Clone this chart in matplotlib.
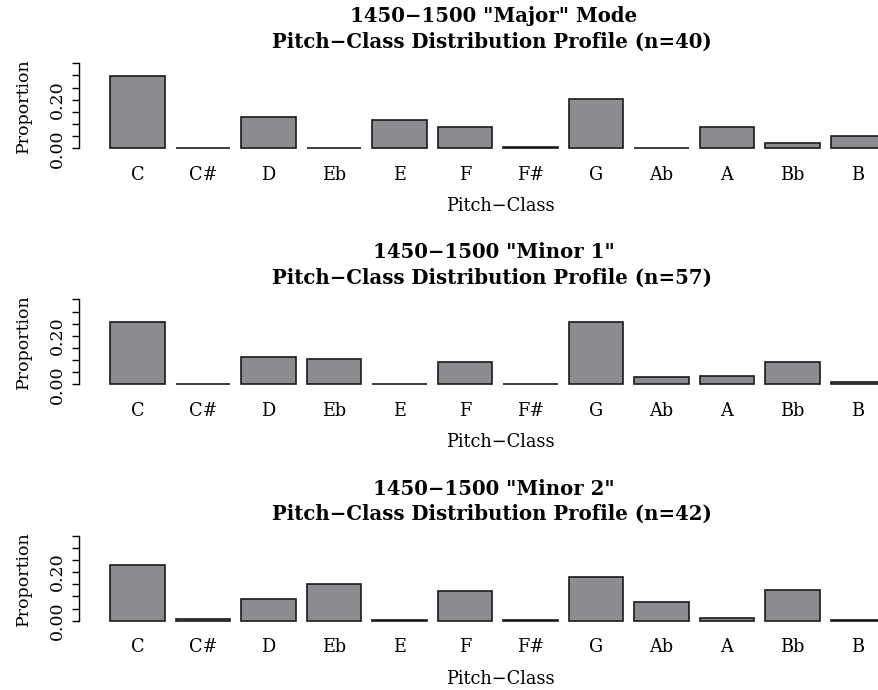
import matplotlib
matplotlib.use("Agg")
import matplotlib.pyplot as plt
import numpy as np

pitch_classes = ["C", "C#", "D", "Eb", "E", "F", "F#", "G", "Ab", "A", "Bb", "B"]
major_vals = [0.299, 0.002, 0.130, 0.003, 0.116, 0.088, 0.006, 0.202, 0.002, 0.089, 0.023, 0.051]
minor1_vals = [0.258, 0.002, 0.111, 0.106, 0.003, 0.092, 0.002, 0.256, 0.031, 0.033, 0.092, 0.008]
minor2_vals = [0.230, 0.008, 0.089, 0.151, 0.003, 0.122, 0.001, 0.180, 0.076, 0.012, 0.125, 0.002]
titles = ['1450\u22121500 "Major" Mode', '1450\u22121500 "Minor 1"', '1450\u22121500 "Minor 2"']
ns = [40, 57, 42]
series = [major_vals, minor1_vals, minor2_vals]
ytick_vals = [0.00, 0.05, 0.10, 0.15, 0.20, 0.25, 0.30, 0.35]
ytick_labels = ["0.00", "", "", "", "0.20", "", "", ""]

W, H = 879, 690
plt.rcParams['font.family'] = ['DejaVu Serif']
fig = plt.figure(figsize=(W / 100, H / 100), dpi=100)

scale = 243.0  # px per unit
zero_px = [148.3, 384.4, 620.7]
x0_px = 99.1
unit_px = 54.6
ax_left_px = 79.3

bar_color = '#8b8c90'
fs = 12.8
tfs = 14.2

for i in range(3):
    y0 = zero_px[i]
    bottom_px = y0 + 0.014 * scale
    top_px = y0 - 0.364 * scale
    xl = (ax_left_px - x0_px) / unit_px
    xr = xl + (916 - ax_left_px) / unit_px
    ax = fig.add_axes([ax_left_px / W, 1 - bottom_px / H,
                       (916 - ax_left_px) / W, (bottom_px - top_px) / H])
    vals = series[i]
    centers = 0.7 + 1.2 * np.arange(len(vals))
    ax.bar(centers, vals, width=1.0, color=bar_color, edgecolor='#1a1a1a', linewidth=1.2)
    ax.set_xlim(xl, xr)
    ax.set_ylim(-0.014, 0.364)
    for s in ['top', 'right', 'bottom']:
        ax.spines[s].set_visible(False)
    ax.spines['left'].set_bounds(0, 0.35)
    ax.spines['left'].set_linewidth(1.0)
    ax.set_yticks(ytick_vals)
    ax.set_yticklabels(ytick_labels, rotation=90, va='center', fontsize=12.5)
    ax.tick_params(axis='y', length=5, width=1.0, pad=5)
    ax.set_xticks(centers)
    ax.set_xticklabels(pitch_classes, fontsize=fs)
    ax.tick_params(axis='x', length=0, pad=10)
    ax.set_facecolor('none')
    # axis labels
    fig.text(23 / W, 1 - (y0 - 0.175 * scale) / H, 'Proportion', rotation=90,
             ha='center', va='center', fontsize=12.5)
    fig.text(500 / W, 1 - (y0 + 58) / H, 'Pitch\u2212Class', ha='center', va='center', fontsize=fs)
    # titles
    t1 = y0 - 132
    t2 = y0 - 107
    fig.text(494 / W, 1 - t1 / H, titles[i], ha='center', va='center',
             fontsize=tfs, fontweight='bold')
    fig.text(492 / W, 1 - t2 / H, 'Pitch\u2212Class Distribution Profile (n=%d)' % ns[i],
             ha='center', va='center', fontsize=tfs, fontweight='bold')

fig.savefig('out.png', dpi=100)
